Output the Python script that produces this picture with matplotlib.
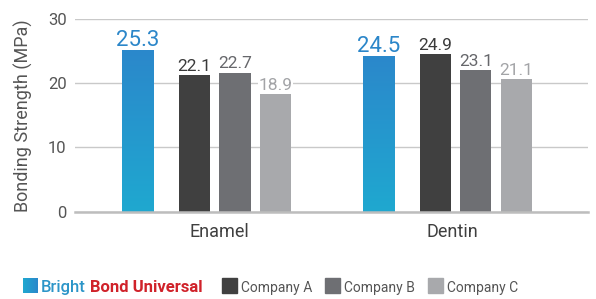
import matplotlib
matplotlib.use("Agg")
import matplotlib.pyplot as plt
import numpy as np
from matplotlib import font_manager
from matplotlib.colors import LinearSegmentedColormap
from matplotlib.patches import Rectangle

# данные
groups = ["Enamel", "Dentin"]
series = ["Bright Bond Universal", "Company A", "Company B", "Company C"]
# подписи над столбцами
bright_lbl = ["25.3", "24.5"]
comp_a_lbl = ["22.1", "24.9"]
comp_b_lbl = ["22.7", "23.1"]
comp_c_lbl = ["18.9", "21.1"]
# высоты столбцов, как нарисованы
bright = [25.1, 24.25]
comp_a = [21.3, 24.5]
comp_b = [21.65, 22.1]
comp_c = [18.3, 20.7]

names = {f.name for f in font_manager.fontManager.ttflist}
narrow = "Liberation Sans Narrow" if "Liberation Sans Narrow" in names else "Roboto"
plt.rcParams["font.family"] = [narrow, "DejaVu Sans"]

colors = ["#2a8bcb", "#404040", "#6e6f73", "#a8a9ac"]
lbl_colors = ["#2b86c9", "#3a3a3a", "#66676b", "#a3a4a7"]
offsets = [-0.286, -0.050, 0.118, 0.286]
width = 0.129

fig = plt.figure(figsize=(5.96, 2.99), dpi=100)
ax = fig.add_axes([75 / 596, 87.3 / 299, 513 / 596, 192.7 / 299])

blue_cmap = LinearSegmentedColormap.from_list("bb", ["#1fa8d0", "#2b88cb"])
grad = np.linspace(0, 1, 100).reshape(-1, 1)

x = np.arange(len(groups))
values = [bright, comp_a, comp_b, comp_c]
texts = [bright_lbl, comp_a_lbl, comp_b_lbl, comp_c_lbl]
for i, (vals, lbls) in enumerate(zip(values, texts)):
    xs = x + offsets[i]
    if i == 0:
        for xi, h in zip(xs, vals):
            ax.imshow(grad, extent=[xi - width / 2, xi + width / 2, 0, h],
                      origin="lower", aspect="auto", cmap=blue_cmap, zorder=2)
    else:
        ax.bar(xs, vals, width=width, color=colors[i], zorder=2)
    for xi, h, t in zip(xs, vals, lbls):
        ax.annotate(t, (xi, h), xytext=(0, 3), textcoords="offset points",
                    ha="center", va="baseline", color=lbl_colors[i],
                    fontsize=16 if i == 0 else 12.5, zorder=3,
                    bbox=dict(fc="white", ec="none", pad=0.5) if i == 3 else None)

ax.set_xlim(-0.546, 1.583)
ax.set_ylim(0, 30)
ax.set_yticks([0, 10, 20, 30])
ax.grid(axis="y", color="#c9c9c9", linewidth=1, zorder=0)
ax.set_axisbelow(True)
for s in ["top", "right", "left"]:
    ax.spines[s].set_visible(False)
ax.spines["bottom"].set_color("#bdbdbd")
ax.spines["bottom"].set_linewidth(1.8)
ax.spines["bottom"].set_zorder(4)
ax.tick_params(axis="y", length=0, pad=6, labelsize=12, labelcolor="#555555")
ax.tick_params(axis="x", length=0, pad=8, labelsize=13, labelcolor="#3f3f3f")
ax.set_xticks([0.054, 1.02])
ax.set_xticklabels(groups)
ax.set_ylabel("Bonding Strength (MPa)", fontsize=13, color="#555555", labelpad=11)

# легенда вручную
sq = 15 / 596
sqh = 15 / 299
yb = 6 / 299
lax = fig.add_axes([23 / 596, yb, sq, sqh])
lax.imshow(np.linspace(0, 1, 50).reshape(1, -1), cmap=blue_cmap, aspect="auto")
lax.axis("off")
fig.canvas.draw()
r = fig.canvas.get_renderer()
t1 = fig.text(41 / 596, 7 / 299, "Bright", color="#2b95c8", fontsize=12,
              fontweight="medium", va="baseline")
bb = t1.get_window_extent(r)
fig.text((bb.x1 + 4) / 596, 7 / 299, "Bond Universal", color="#d0222a",
         fontsize=12, fontweight="bold", va="baseline")
for i, xp in zip([1, 2, 3], [222, 325, 428]):
    fig.patches.append(Rectangle((xp / 596, yb), sq, sqh, transform=fig.transFigure,
                                 color=colors[i], figure=fig))
    fig.text((xp + 19) / 596, 7 / 299, series[i], color="#555555", fontsize=10,
             va="baseline")

fig.savefig("out.png", dpi=100)
